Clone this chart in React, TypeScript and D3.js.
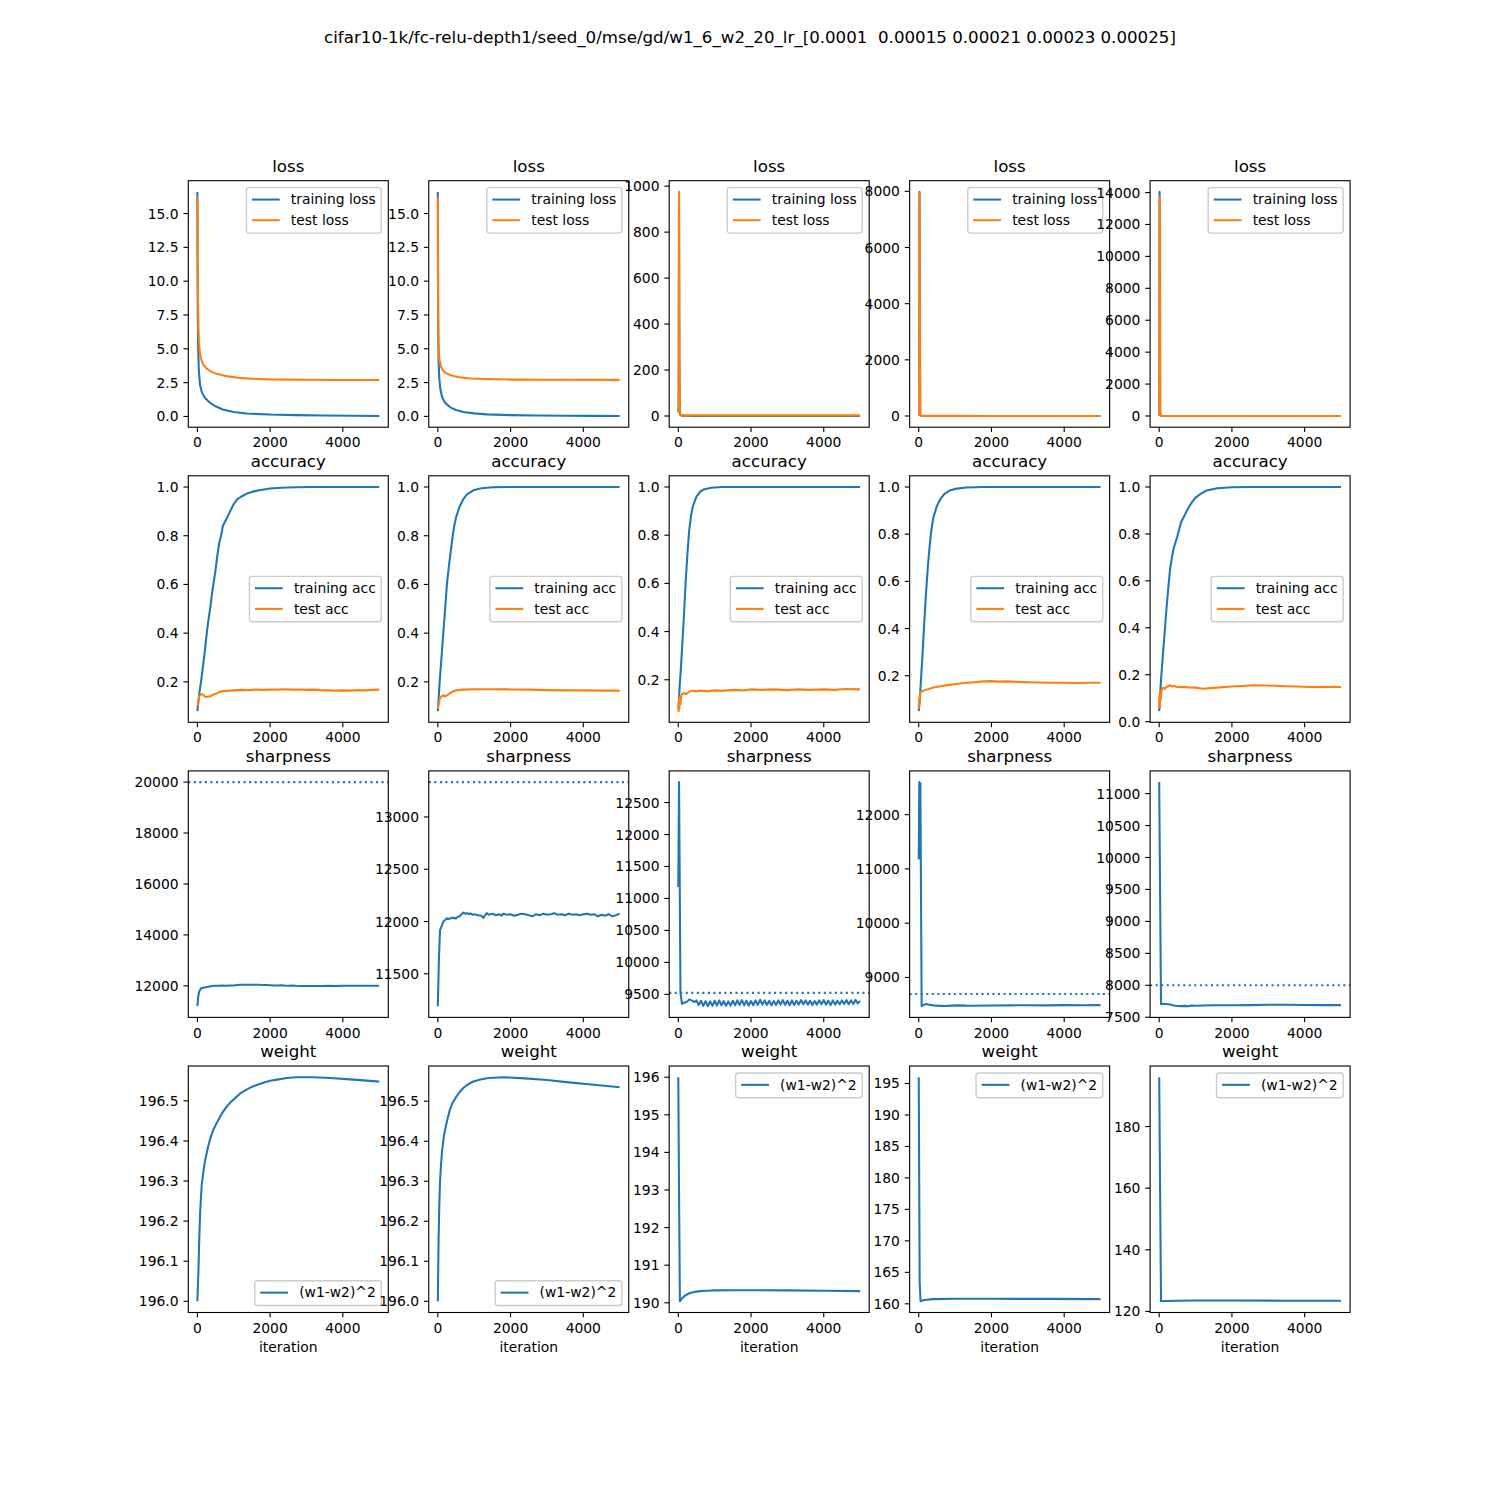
import React from 'react';
import * as d3 from 'd3';

type Pt = [number, number];

const BLUE = '#1f77b4';
const ORANGE = '#ff7f0e';
const FONT = '"DejaVu Sans", sans-serif';

const SUPTITLE = 'cifar10-1k/fc-relu-depth1/seed_0/mse/gd/w1_6_w2_20_lr_[0.0001  0.00015 0.00021 0.00023 0.00025]';
const LRS = [0.0001, 0.00015, 0.00021, 0.00023, 0.00025];
const X_TICKS = [0, 2000, 4000];

// ---- loss ----
const trainLoss: Pt[][] = [
  [[0, 16.6], [5, 11], [10, 7.5], [20, 5.2], [40, 3.4], [70, 2.4], [120, 1.8], [200, 1.4], [350, 1.0], [500, 0.75], [700, 0.52], [1000, 0.33], [1350, 0.22], [2000, 0.14], [2700, 0.1], [3500, 0.07], [4200, 0.05], [5000, 0.035]],
  [[0, 16.6], [5, 9], [10, 6], [20, 4.2], [40, 2.8], [70, 2], [120, 1.4], [200, 1.0], [350, 0.65], [500, 0.47], [700, 0.33], [1000, 0.22], [1350, 0.15], [2000, 0.09], [2700, 0.065], [3500, 0.045], [4200, 0.035], [5000, 0.028]],
  [[0, 16.6], [10, 40], [20, 960], [30, 260], [40, 12], [60, 4], [100, 1.5], [200, 0.8], [500, 0.35], [1000, 0.2], [2000, 0.1], [5000, 0.03]],
  [[0, 16.6], [10, 60], [20, 7980], [30, 3500], [40, 40], [60, 5], [100, 1.5], [200, 0.8], [500, 0.35], [1000, 0.2], [2000, 0.1], [5000, 0.03]],
  [[0, 16.6], [10, 14040], [20, 500], [30, 60], [50, 6], [100, 1.5], [200, 0.8], [500, 0.35], [1000, 0.2], [2000, 0.1], [5000, 0.03]],
];
const testLoss: Pt[][] = [
  [[0, 16.2], [10, 11], [20, 8], [30, 6.5], [50, 5.2], [80, 4.5], [120, 4.1], [160, 3.85], [250, 3.55], [350, 3.35], [530, 3.15], [800, 2.98], [1170, 2.85], [1500, 2.79], [2000, 2.74], [3000, 2.71], [4000, 2.7], [5000, 2.7]],
  [[0, 16.2], [5, 10], [10, 7.5], [20, 5.5], [40, 4.3], [80, 3.7], [150, 3.35], [250, 3.15], [400, 3.0], [600, 2.9], [900, 2.8], [1300, 2.76], [2000, 2.72], [3000, 2.71], [5000, 2.7]],
  [[0, 16.2], [10, 45], [20, 975], [30, 230], [40, 14], [60, 5.5], [100, 4], [200, 3.3], [500, 3], [1000, 2.85], [2000, 2.75], [5000, 2.7]],
  [[0, 16.2], [10, 55], [20, 7950], [30, 3300], [40, 50], [60, 6], [100, 4], [200, 3.3], [500, 3], [1000, 2.85], [2000, 2.75], [5000, 2.7]],
  [[0, 16.2], [10, 13750], [20, 12500], [30, 200], [50, 8], [100, 4], [200, 3.3], [500, 3], [1000, 2.85], [2000, 2.75], [5000, 2.7]],
];

// ---- accuracy ----
const trainAcc: Pt[][] = [
  [[0, 0.08], [50, 0.15], [100, 0.2], [150, 0.26], [200, 0.32], [250, 0.39], [300, 0.45], [350, 0.5], [400, 0.56], [450, 0.61], [500, 0.66], [550, 0.72], [600, 0.77], [650, 0.8], [700, 0.84], [800, 0.87], [900, 0.9], [1000, 0.93], [1100, 0.95], [1200, 0.96], [1350, 0.972], [1500, 0.98], [1700, 0.987], [2000, 0.994], [2300, 0.997], [2700, 0.999], [3200, 1.0], [5000, 1.0]],
  [[0, 0.08], [50, 0.2], [100, 0.3], [150, 0.4], [200, 0.5], [250, 0.6], [300, 0.67], [350, 0.73], [400, 0.79], [450, 0.84], [500, 0.875], [600, 0.92], [700, 0.95], [800, 0.97], [1000, 0.988], [1200, 0.995], [1500, 0.999], [2000, 1.0], [5000, 1.0]],
  [[0, 0.08], [20, 0.12], [40, 0.18], [60, 0.22], [100, 0.32], [150, 0.45], [200, 0.6], [250, 0.72], [300, 0.82], [350, 0.88], [400, 0.92], [500, 0.96], [600, 0.98], [700, 0.99], [900, 0.997], [1200, 1.0], [5000, 1.0]],
  [[0, 0.05], [30, 0.1], [60, 0.18], [100, 0.28], [150, 0.42], [200, 0.55], [250, 0.66], [300, 0.75], [350, 0.82], [400, 0.87], [500, 0.92], [600, 0.95], [700, 0.97], [850, 0.985], [1000, 0.992], [1300, 0.998], [1800, 1.0], [5000, 1.0]],
  [[0, 0.045], [30, 0.13], [60, 0.2], [100, 0.28], [150, 0.38], [200, 0.48], [250, 0.57], [300, 0.65], [350, 0.7], [400, 0.74], [500, 0.79], [600, 0.85], [700, 0.88], [800, 0.91], [900, 0.935], [1000, 0.955], [1150, 0.972], [1300, 0.985], [1600, 0.995], [2000, 0.999], [2500, 1.0], [5000, 1.0]],
];
const testAcc: Pt[][] = [
  [[0, 0.1], [25, 0.12], [50, 0.14], [100, 0.15], [150, 0.148], [200, 0.14], [250, 0.138], [300, 0.14], [350, 0.14], [400, 0.145], [450, 0.148], [500, 0.15], [600, 0.158], [700, 0.162], [800, 0.163], [900, 0.164], [1000, 0.165], [1200, 0.167], [1400, 0.166], [1600, 0.168], [1800, 0.167], [2000, 0.169], [2200, 0.168], [2400, 0.17], [2600, 0.168], [2800, 0.169], [3000, 0.167], [3200, 0.168], [3400, 0.166], [3600, 0.165], [3800, 0.164], [4000, 0.165], [4200, 0.164], [4400, 0.166], [4600, 0.165], [4800, 0.167], [5000, 0.168]],
  [[0, 0.09], [50, 0.13], [100, 0.14], [150, 0.145], [200, 0.14], [250, 0.145], [300, 0.15], [400, 0.16], [500, 0.165], [700, 0.168], [1000, 0.17], [1500, 0.17], [2000, 0.169], [2500, 0.168], [3000, 0.166], [3500, 0.165], [4000, 0.165], [4500, 0.164], [5000, 0.164]],
  [[0, 0.09], [10, 0.07], [20, 0.12], [30, 0.08], [40, 0.13], [60, 0.1], [80, 0.13], [100, 0.14], [150, 0.145], [200, 0.14], [300, 0.15], [400, 0.155], [500, 0.152], [600, 0.155], [800, 0.152], [1000, 0.156], [1200, 0.154], [1500, 0.158], [1800, 0.156], [2000, 0.16], [2300, 0.158], [2600, 0.16], [3000, 0.157], [3300, 0.16], [3600, 0.158], [4000, 0.16], [4300, 0.158], [4600, 0.162], [5000, 0.16]],
  [[0, 0.06], [10, 0.1], [20, 0.08], [30, 0.12], [50, 0.13], [100, 0.135], [200, 0.14], [300, 0.145], [400, 0.15], [600, 0.155], [800, 0.16], [1000, 0.165], [1200, 0.168], [1500, 0.172], [1800, 0.176], [2000, 0.177], [2200, 0.175], [2400, 0.176], [2700, 0.174], [3000, 0.172], [3300, 0.171], [3600, 0.17], [4000, 0.17], [4400, 0.169], [4700, 0.17], [5000, 0.17]],
  [[0, 0.07], [10, 0.12], [20, 0.06], [30, 0.13], [40, 0.09], [60, 0.13], [80, 0.14], [100, 0.145], [150, 0.14], [200, 0.148], [300, 0.155], [350, 0.15], [400, 0.152], [500, 0.148], [600, 0.147], [700, 0.148], [800, 0.146], [1000, 0.145], [1200, 0.14], [1400, 0.143], [1600, 0.145], [1800, 0.148], [2000, 0.15], [2300, 0.152], [2600, 0.155], [2900, 0.154], [3200, 0.153], [3500, 0.151], [3800, 0.15], [4100, 0.148], [4400, 0.148], [4700, 0.149], [5000, 0.148]],
];

// ---- sharpness ----
const sharp1: Pt[] = [[0, 11200], [25, 11600], [50, 11780], [100, 11900], [150, 11920], [200, 11935], [300, 11960], [400, 11995], [500, 12005], [600, 12000], [700, 12010], [800, 12005], [900, 12015], [1000, 12010], [1100, 12030], [1200, 12040], [1300, 12045], [1400, 12040], [1500, 12045], [1600, 12040], [1700, 12042], [1800, 12035], [1900, 12030], [2000, 12020], [2100, 12010], [2200, 12015], [2300, 12020], [2400, 12010], [2500, 12005], [2600, 12010], [2700, 12000], [2800, 11995], [2900, 11990], [3000, 11995], [3200, 11990], [3400, 11995], [3600, 12000], [3800, 11995], [4000, 12000], [4200, 12005], [4400, 12000], [4600, 12005], [4800, 12000], [5000, 12000]];
const sharp2: Pt[] = [[0, 11190], [30, 11650], [60, 11920], [100, 11950], [150, 12000], [200, 12015], [250, 12030], [300, 12025], [400, 12035], [500, 12030], [550, 12045], [600, 12050], [650, 12070], [700, 12085], [750, 12075], [800, 12080], [850, 12070], [900, 12078], [950, 12065], [1000, 12070], [1100, 12060], [1200, 12055], [1250, 12035], [1300, 12060], [1350, 12080], [1400, 12065], [1500, 12075], [1600, 12060], [1700, 12070], [1750, 12055], [1800, 12075], [1900, 12065], [2000, 12070], [2100, 12055], [2200, 12065], [2300, 12075], [2400, 12070], [2500, 12060], [2600, 12050], [2700, 12070], [2800, 12060], [2900, 12075], [3000, 12065], [3100, 12070], [3200, 12080], [3300, 12065], [3400, 12070], [3500, 12060], [3600, 12075], [3700, 12065], [3800, 12070], [3900, 12060], [4000, 12070], [4100, 12075], [4200, 12065], [4300, 12070], [4400, 12050], [4500, 12065], [4600, 12055], [4700, 12070], [4800, 12050], [4900, 12060], [5000, 12075]];
const sharp3Start: Pt[] = [[0, 11180], [20, 12820], [60, 9530], [100, 9350], [150, 9370], [200, 9375], [250, 9390], [300, 9420], [350, 9410], [400, 9395], [450, 9380]];
// recorded every 62.5 iterations from 500 on (oscillating)
const sharp3Tail = [9405, 9335, 9400, 9320, 9395, 9315, 9390, 9320, 9400, 9325, 9405, 9330, 9395, 9320, 9390, 9325, 9400, 9330, 9405, 9335, 9410, 9330, 9400, 9325, 9395, 9330, 9405, 9335, 9415, 9340, 9405, 9335, 9400, 9330, 9395, 9335, 9405, 9340, 9410, 9335, 9400, 9330, 9405, 9335, 9400, 9340, 9410, 9345, 9405, 9340, 9400, 9335, 9395, 9340, 9405, 9345, 9410, 9340, 9400, 9335, 9405, 9340, 9400, 9345, 9405, 9350, 9410, 9345, 9405, 9350, 9415, 9360, 9395];
const sharp4: Pt[] = [[0, 11180], [15, 12600], [30, 11200], [45, 12580], [80, 8470], [130, 8490], [200, 8510], [300, 8495], [400, 8485], [500, 8480], [700, 8475], [900, 8480], [1100, 8485], [1300, 8480], [1500, 8478], [2000, 8482], [2500, 8485], [3000, 8488], [3500, 8485], [4000, 8490], [4500, 8488], [5000, 8490]];
const sharp5: Pt[] = [[0, 11180], [50, 7705], [100, 7710], [200, 7708], [300, 7700], [400, 7685], [500, 7675], [600, 7674], [700, 7678], [800, 7673], [900, 7683], [1000, 7680], [1200, 7684], [1500, 7687], [2000, 7688], [2500, 7690], [3000, 7695], [3500, 7695], [4000, 7692], [4500, 7690], [5000, 7690]];

// ---- weight (w1-w2)^2 ----
const weight1: Pt[] = [[0, 196.0], [10, 196.03], [27, 196.07], [50, 196.15], [75, 196.22], [118, 196.29], [160, 196.32], [209, 196.35], [280, 196.38], [350, 196.405], [440, 196.428], [531, 196.445], [620, 196.46], [700, 196.472], [800, 196.485], [900, 196.495], [1050, 196.508], [1200, 196.52], [1350, 196.528], [1500, 196.535], [1650, 196.54], [1812, 196.545], [2000, 196.55], [2200, 196.553], [2450, 196.557], [2730, 196.559], [3200, 196.559], [3647, 196.557], [4300, 196.553], [5000, 196.548]];
const weight2: Pt[] = [[0, 196.0], [10, 196.08], [20, 196.15], [40, 196.24], [60, 196.3], [90, 196.345], [120, 196.38], [180, 196.42], [250, 196.45], [320, 196.475], [400, 196.495], [500, 196.51], [600, 196.523], [700, 196.533], [800, 196.54], [900, 196.546], [1000, 196.55], [1200, 196.555], [1400, 196.558], [1800, 196.56], [2400, 196.557], [3000, 196.553], [3600, 196.547], [4300, 196.541], [5000, 196.535]];
const weight3: Pt[] = [[0, 196.0], [20, 193], [44, 190.04], [80, 190.09], [136, 190.15], [200, 190.2], [320, 190.26], [450, 190.29], [600, 190.31], [800, 190.32], [1000, 190.33], [1500, 190.335], [2000, 190.335], [3000, 190.33], [4000, 190.32], [5000, 190.31]];
const weight4: Pt[] = [[0, 196.0], [25, 163.5], [50, 160.4], [150, 160.6], [400, 160.75], [1000, 160.8], [2000, 160.8], [3500, 160.78], [5000, 160.75]];
const weight5: Pt[] = [[0, 196.0], [50, 123.3], [200, 123.4], [500, 123.5], [1000, 123.55], [2000, 123.55], [3500, 123.5], [5000, 123.5]];

// ---- y tick labels per row / column ----
const lossTicks = [
  ['0.0', '2.5', '5.0', '7.5', '10.0', '12.5', '15.0'],
  ['0.0', '2.5', '5.0', '7.5', '10.0', '12.5', '15.0'],
  ['0', '200', '400', '600', '800', '1000'],
  ['0', '2000', '4000', '6000', '8000'],
  ['0', '2000', '4000', '6000', '8000', '10000', '12000', '14000'],
];
const accTicks = [
  ['0.2', '0.4', '0.6', '0.8', '1.0'],
  ['0.2', '0.4', '0.6', '0.8', '1.0'],
  ['0.2', '0.4', '0.6', '0.8', '1.0'],
  ['0.2', '0.4', '0.6', '0.8', '1.0'],
  ['0.0', '0.2', '0.4', '0.6', '0.8', '1.0'],
];
const sharpTicks = [
  ['12000', '14000', '16000', '18000', '20000'],
  ['11500', '12000', '12500', '13000'],
  ['9500', '10000', '10500', '11000', '11500', '12000', '12500'],
  ['9000', '10000', '11000', '12000'],
  ['7500', '8000', '8500', '9000', '9500', '10000', '10500', '11000'],
];
const weightTicks = [
  ['196.0', '196.1', '196.2', '196.3', '196.4', '196.5'],
  ['196.0', '196.1', '196.2', '196.3', '196.4', '196.5'],
  ['190', '191', '192', '193', '194', '195', '196'],
  ['160', '165', '170', '175', '180', '185', '190', '195'],
  ['120', '140', '160', '180'],
];

// ---- layout (matplotlib defaults at dpi 100) ----
const PT = 100 / 72;
const AX_LEFT = 188.3;
const COL_STEP = 240.45;
const AX_W = 200;
const AX_TOP = 180.7;
const ROW_STEP = 295.1;
const AX_H = 246.5;
const TICK_FS = 10 * PT;
const TITLE_FS = 12 * PT;
const LINE_W = 1.5 * PT;
const SPINE_W = 0.8 * PT;
const TICK_LEN = 3.5 * PT;
const TICK_PAD = 3.5 * PT;

let measureCtx: CanvasRenderingContext2D | null = null;
function textWidth(s: string, size: number) {
  if (!measureCtx) measureCtx = document.createElement('canvas').getContext('2d');
  if (!measureCtx) return s.length * size * 0.6;
  measureCtx.font = `${size}px "DejaVu Sans"`;
  return measureCtx.measureText(s).width;
}

interface Series { data: Pt[]; color: string; label: string }

type LegendLoc = 'upper right' | 'center right' | 'lower right';

interface PanelProps {
  id: string;
  col: number;
  row: number;
  title: string;
  series: Series[];
  hline?: number;
  yTicks: string[];
  legendLoc?: LegendLoc;
  xlabel?: string;
}

const Panel: React.FC<PanelProps> = ({ id, col, row, title, series, hline, yTicks, legendLoc, xlabel }) => {
  const x0 = AX_LEFT + col * COL_STEP;
  const y0 = AX_TOP + row * ROW_STEP;
  const x1 = x0 + AX_W;
  const y1 = y0 + AX_H;

  const xs = series.flatMap(s => s.data.map(d => d[0]));
  const ys = series.flatMap(s => s.data.map(d => d[1]));
  if (hline != null) ys.push(hline);
  const [xmin, xmax] = d3.extent(xs) as [number, number];
  const [ymin, ymax] = d3.extent(ys) as [number, number];
  const xpad = (xmax - xmin) * 0.05;
  const ypad = (ymax - ymin) * 0.05;

  const x = d3.scaleLinear().domain([xmin - xpad, xmax + xpad]).range([x0, x1]);
  const y = d3.scaleLinear().domain([ymin - ypad, ymax + ypad]).range([y1, y0]);
  const line = d3.line<Pt>().x(d => x(d[0])).y(d => y(d[1]));

  const [dlo, dhi] = y.domain();
  const visibleY = yTicks.filter(t => +t >= dlo - 1e-9 && +t <= dhi + 1e-9);

  // legend geometry (matplotlib defaults, fontsize 10pt)
  let legend: React.ReactNode = null;
  if (legendLoc) {
    const pad = 0.4 * TICK_FS;
    const handle = 2.0 * TICK_FS;
    const gap = 0.8 * TICK_FS;
    const rowH = 13.7;
    const spacing = 0.5 * TICK_FS;
    const axPad = 0.5 * TICK_FS;
    const tw = d3.max(series, s => textWidth(s.label, TICK_FS)) ?? 0;
    const w = 2 * pad + handle + gap + tw;
    const h = 2 * pad + series.length * rowH + (series.length - 1) * spacing;
    const lx = x1 - axPad - w;
    let ly = y0 + axPad;
    if (legendLoc === 'center right') ly = (y0 + y1) / 2 - h / 2;
    if (legendLoc === 'lower right') ly = y1 - axPad - h;
    legend = (
      <g>
        <rect x={lx} y={ly} width={w} height={h} rx={2.8} ry={2.8}
          fill="white" fillOpacity={0.8} stroke="#cccccc" strokeWidth={PT} />
        {series.map((s, i) => {
          const cy = ly + pad + i * (rowH + spacing) + rowH / 2 - 0.5;
          return (
            <g key={s.label}>
              <line x1={lx + pad} x2={lx + pad + handle} y1={cy} y2={cy} stroke={s.color} strokeWidth={LINE_W} />
              <text x={lx + pad + handle + gap} y={cy + 4.8} fontSize={TICK_FS} fill="black">{s.label}</text>
            </g>
          );
        })}
      </g>
    );
  }

  return (
    <g fontFamily={FONT}>
      <clipPath id={`clip-${id}`}>
        <rect x={x0} y={y0} width={AX_W} height={AX_H} />
      </clipPath>
      <rect x={x0} y={y0} width={AX_W} height={AX_H} fill="white" />
      <g clipPath={`url(#clip-${id})`}>
        {series.map(s => (
          <path key={s.label} d={line(s.data) ?? ''} fill="none" stroke={s.color} strokeWidth={LINE_W}
            strokeLinejoin="round" strokeLinecap="butt" />
        ))}
        {hline != null && (
          <line x1={x0} x2={x1} y1={y(hline)} y2={y(hline)} stroke={BLUE} strokeWidth={LINE_W}
            strokeDasharray={`${LINE_W} ${1.65 * LINE_W}`} />
        )}
      </g>
      <rect x={x0} y={y0} width={AX_W} height={AX_H} fill="none" stroke="black" strokeWidth={SPINE_W} />
      {X_TICKS.map(t => (
        <g key={`x${t}`}>
          <line x1={x(t)} x2={x(t)} y1={y1} y2={y1 + TICK_LEN} stroke="black" strokeWidth={SPINE_W} />
          <text x={x(t)} y={y1 + TICK_LEN + TICK_PAD + 10.4} fontSize={TICK_FS} textAnchor="middle" fill="black">{t}</text>
        </g>
      ))}
      {visibleY.map(t => (
        <g key={`y${t}`}>
          <line x1={x0 - TICK_LEN} x2={x0} y1={y(+t)} y2={y(+t)} stroke="black" strokeWidth={SPINE_W} />
          <text x={x0 - TICK_LEN - TICK_PAD} y={y(+t) + 5} fontSize={TICK_FS} textAnchor="end" fill="black">{t}</text>
        </g>
      ))}
      <text x={(x0 + x1) / 2} y={y0 - 9} fontSize={TITLE_FS} textAnchor="middle" fill="black">{title}</text>
      {legend}
      {xlabel && (
        <text x={(x0 + x1) / 2} y={y1 + 39.5} fontSize={TICK_FS} textAnchor="middle" fill="black">{xlabel}</text>
      )}
    </g>
  );
};

const App: React.FC = () => {
  const sharpness: Pt[][] = [
    sharp1,
    sharp2,
    [...sharp3Start, ...sharp3Tail.map((v, i) => [500 + i * 62.5, v] as Pt)],
    sharp4,
    sharp5,
  ];
  const weights = [weight1, weight2, weight3, weight4, weight5];
  const cols = d3.range(5);

  return (
    <svg width={1500} height={1500} viewBox="0 0 1500 1500"
      style={{ position: 'absolute', left: 0, top: 0, background: 'white' }}>
      <rect x={0} y={0} width={1500} height={1500} fill="white" />
      <text x={750} y={42.5} fontSize={TITLE_FS} fontFamily={FONT} textAnchor="middle" fill="black"
        style={{ whiteSpace: 'pre' }}>{SUPTITLE}</text>
      {cols.map(c => (
        <Panel key={`loss${c}`} id={`loss${c}`} col={c} row={0} title="loss"
          series={[
            { data: trainLoss[c], color: BLUE, label: 'training loss' },
            { data: testLoss[c], color: ORANGE, label: 'test loss' },
          ]}
          yTicks={lossTicks[c]} legendLoc="upper right" />
      ))}
      {cols.map(c => (
        <Panel key={`acc${c}`} id={`acc${c}`} col={c} row={1} title="accuracy"
          series={[
            { data: trainAcc[c], color: BLUE, label: 'training acc' },
            { data: testAcc[c], color: ORANGE, label: 'test acc' },
          ]}
          yTicks={accTicks[c]} legendLoc="center right" />
      ))}
      {cols.map(c => (
        <Panel key={`sharp${c}`} id={`sharp${c}`} col={c} row={2} title="sharpness"
          series={[{ data: sharpness[c], color: BLUE, label: 'sharpness' }]}
          hline={2 / LRS[c]} yTicks={sharpTicks[c]} />
      ))}
      {cols.map(c => (
        <Panel key={`w${c}`} id={`w${c}`} col={c} row={3} title="weight"
          series={[{ data: weights[c], color: BLUE, label: '(w1-w2)^2' }]}
          yTicks={weightTicks[c]} legendLoc={c < 2 ? 'lower right' : 'upper right'} xlabel="iteration" />
      ))}
    </svg>
  );
};

export default App;
